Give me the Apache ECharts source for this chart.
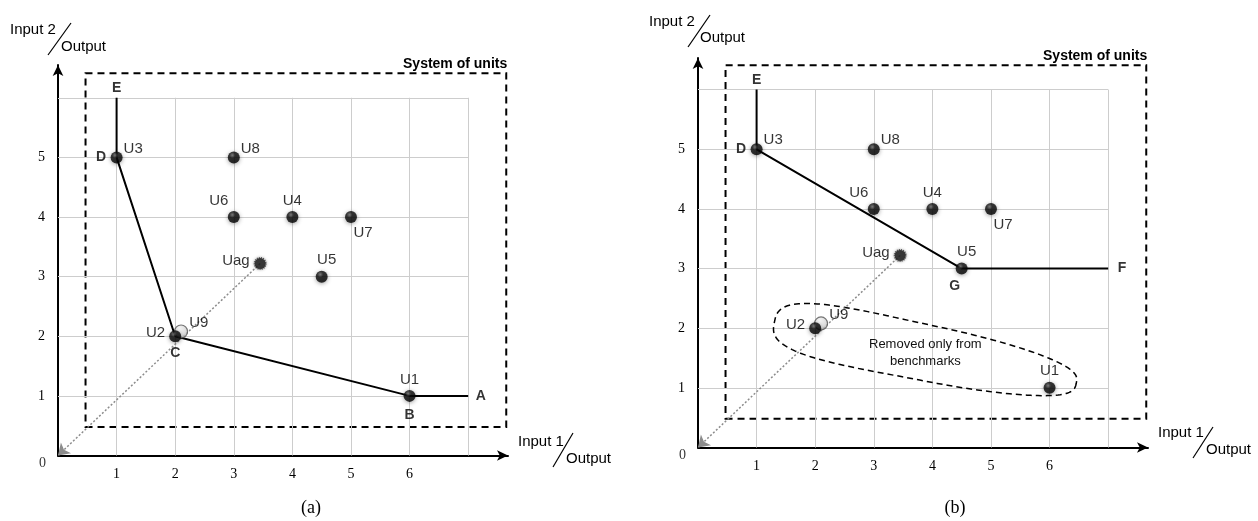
<!DOCTYPE html>
<html>
<head>
<meta charset="UTF-8">
<title>System of units</title>
<script src="https://cdn.jsdelivr.net/npm/echarts@6/dist/echarts.min.js"></script>
<style>
  html, body { margin: 0; padding: 0; background: #fff; }
  #chart { width: 1258px; height: 521px; }
</style>
</head>
<body>
<div id="chart"></div>
<script>
// grid ticks and the tick labels that are shown
const xTicks = [1, 2, 3, 4, 5, 6, 7];
const yTicks = [1, 2, 3, 4, 5, 6];
const xTickLabels = [1, 2, 3, 4, 5, 6];
const yTickLabels = [1, 2, 3, 4, 5];

// decision making units
const unitNames = ['U1', 'U2', 'U3', 'U4', 'U5', 'U6', 'U7', 'U8'];
const unitX = [6, 2, 1, 4, 4.5, 3, 5, 3];
const unitY = [1, 2, 5, 4, 3, 4, 4, 5];
const u9Point = [2.1, 2.08];
const uagPoint = [3.45, 3.22];

// efficient frontier, panel (a)
const frontierALetters = ['E', 'D', 'C', 'B', 'A'];
const frontierAX = [1, 1, 2, 6, 7];
const frontierAY = [6, 5, 2, 1, 1];

// efficient frontier, panel (b)
const frontierBLetters = ['E', 'D', 'G', 'F'];
const frontierBX = [1, 1, 4.5, 7];
const frontierBY = [6, 5, 3, 3];

// "system of units" box corners and the removed group
const systemBox = [[0.47, 0.48], [7.65, 6.41]];
const removedCenter = [3.88, 1.59];

const SANS = '"Liberation Sans", Arial, sans-serif';
const SERIF = '"Liberation Serif", "Times New Roman", serif';

// label placement (style only)
const labelStyles = {
  rt:   { position: 'right', distance: 1, offset: [0, -9] },
  lt:   { position: 'top', distance: 3, offset: [-15, 0] },
  top:  { position: 'top', distance: 3 },
  topr: { position: 'top', distance: 3, offset: [5, 0] },
  rb:   { position: 'bottom', distance: 2, offset: [12, 0] },
  left: { position: 'left', distance: 4, offset: [0, -3] }
};
const unitLabelPos = { U1: 'top', U2: 'left', U3: 'rt', U4: 'top', U5: 'topr', U6: 'lt', U7: 'rb', U8: 'rt', U9: 'rt', Uag: 'left' };
const letterLabelA = {
  E: { position: 'top', distance: 2 },
  D: { position: 'left', distance: 10 },
  C: { position: 'bottom', distance: 9 },
  B: { position: 'bottom', distance: 12 },
  A: { position: 'right', distance: 7 }
};
const letterLabelB = {
  E: { position: 'top', distance: 2 },
  D: { position: 'left', distance: 10 },
  G: { position: 'bottom', distance: 10, offset: [-7, 0] },
  F: { position: 'right', distance: 9 }
};

const sphere = {
  type: 'radial', x: 0.38, y: 0.32, r: 0.7,
  colorStops: [{ offset: 0, color: '#6a6a6a' }, { offset: 0.35, color: '#0c0c0c' }, { offset: 1, color: '#000' }]
};
const lightSphere = {
  type: 'radial', x: 0.38, y: 0.32, r: 0.75,
  colorStops: [{ offset: 0, color: '#f4f4f4' }, { offset: 0.6, color: '#d6d6d6' }, { offset: 1, color: '#a8a8a8' }]
};

function unitLabel(name) {
  return Object.assign({ show: true, formatter: name, fontFamily: SANS, fontSize: 15, color: '#000' },
    labelStyles[unitLabelPos[name]]);
}

function panelSeries(idx, letters, fx, fy, letterPos) {
  const ax = { xAxisIndex: idx, yAxisIndex: idx };
  const gridSegs = [];
  xTicks.forEach(function (x) { gridSegs.push({ coords: [[x, 0], [x, yTicks[yTicks.length - 1]]] }); });
  yTicks.forEach(function (y) { gridSegs.push({ coords: [[0, y], [xTicks[xTicks.length - 1], y]] }); });

  return [
    Object.assign({
      type: 'lines', coordinateSystem: 'cartesian2d', silent: true, z: 1,
      data: gridSegs, symbol: 'none',
      lineStyle: { color: '#cdcdcd', width: 1, type: 'solid', opacity: 1 }
    }, ax),
    Object.assign({
      type: 'lines', coordinateSystem: 'cartesian2d', silent: true, z: 3,
      data: [{ coords: [uagPoint, [0, 0]] }],
      symbol: ['none', 'arrow'], symbolSize: 11,
      lineStyle: { color: '#8c8c8c', width: 1.5, type: [2, 2], opacity: 1 }
    }, ax),
    Object.assign({
      type: 'line', silent: true, z: 4, symbol: 'none',
      data: fx.map(function (x, i) { return [x, fy[i]]; }),
      lineStyle: { color: '#000', width: 2 },
      markArea: {
        silent: true,
        itemStyle: { color: 'rgba(0,0,0,0)', borderColor: '#000', borderWidth: 2, borderType: [7, 5] },
        label: {
          show: true, position: ['100%', 0], align: 'right', verticalAlign: 'bottom',
          offset: [0, -1], fontFamily: SANS, fontWeight: 'bold', fontSize: 14, color: '#000'
        },
        data: [[{ name: 'System of units', coord: systemBox[0] }, { coord: systemBox[1] }]]
      }
    }, ax),
    Object.assign({
      type: 'scatter', silent: true, z: 5, symbolSize: 1,
      itemStyle: { color: 'rgba(0,0,0,0)' },
      data: letters.map(function (l, i) {
        return {
          value: [fx[i], fy[i]],
          label: Object.assign({ show: true, formatter: l, fontFamily: SANS, fontWeight: 'bold', fontSize: 14, color: '#000' }, letterPos[l])
        };
      })
    }, ax),
    Object.assign({
      type: 'scatter', silent: true, z: 6, symbolSize: 13,
      itemStyle: { color: lightSphere, borderColor: '#555', borderWidth: 1.2 },
      data: [{ value: u9Point, label: unitLabel('U9') }]
    }, ax),
    Object.assign({
      type: 'scatter', silent: true, z: 7, symbolSize: 11,
      itemStyle: { color: '#1a1a1a', borderColor: '#333', borderWidth: 2, borderType: [1, 1], shadowBlur: 3, shadowColor: 'rgba(0,0,0,0.4)' },
      data: [{ value: uagPoint, label: unitLabel('Uag') }]
    }, ax),
    Object.assign({
      type: 'scatter', silent: true, z: 8, symbolSize: 12,
      itemStyle: { color: sphere, shadowBlur: 4, shadowColor: 'rgba(0,0,0,0.45)', shadowOffsetY: 1 },
      data: unitNames.map(function (n, i) { return { value: [unitX[i], unitY[i]], label: unitLabel(n) }; })
    }, ax),
    Object.assign({
      type: 'scatter', silent: true, z: 5, symbolSize: 1,
      itemStyle: { color: 'rgba(0,0,0,0)' },
      data: [{
        value: [0, 0],
        label: { show: true, formatter: '0', position: [-15, 8], align: 'center', verticalAlign: 'middle', fontFamily: SERIF, fontSize: 14, color: '#000' }
      }]
    }, ax)
  ];
}

function xAxisFor(idx, max) {
  return {
    type: 'value', gridIndex: idx, min: 0, max: max, interval: 1,
    splitLine: { show: false }, axisTick: { show: false },
    axisLine: { lineStyle: { color: '#000', width: 2 }, symbol: ['none', 'arrow'], symbolSize: [8, 11] },
    axisLabel: {
      margin: 12, fontFamily: SERIF, fontSize: 14, color: '#000', showMaxLabel: false,
      formatter: function (v) { return xTickLabels.indexOf(v) >= 0 ? String(v) : ''; }
    }
  };
}
function yAxisFor(idx, max) {
  return {
    type: 'value', gridIndex: idx, min: 0, max: max, interval: 1,
    splitLine: { show: false }, axisTick: { show: false },
    axisLine: { lineStyle: { color: '#000', width: 2 }, symbol: ['none', 'arrow'], symbolSize: [8, 11] },
    axisLabel: {
      margin: 13, fontFamily: SERIF, fontSize: 14, color: '#000', showMaxLabel: false,
      formatter: function (v) { return yTickLabels.indexOf(v) >= 0 ? String(v) : ''; }
    }
  };
}

function titleGroup(tx, ty, sx1, sy1, sx2, sy2, ox, oy, top) {
  return [
    { type: 'text', x: tx, y: ty, style: { text: top, font: '15px ' + SANS, fill: '#000', textVerticalAlign: 'middle' } },
    { type: 'line', shape: { x1: sx1, y1: sy1, x2: sx2, y2: sy2 }, style: { stroke: '#000', lineWidth: 1.2 } },
    { type: 'text', x: ox, y: oy, style: { text: 'Output', font: '15px ' + SANS, fill: '#000', textVerticalAlign: 'middle' } }
  ];
}

const chart = echarts.init(document.getElementById('chart'));

// dashed rounded outline round the units removed from the benchmarks
const ellipseSeries = {
  type: 'custom', xAxisIndex: 1, yAxisIndex: 1, silent: true, clip: false, z: 2,
  data: [removedCenter],
  renderItem: function (params, api) {
    const c = api.coord([api.value(0), api.value(1)]);
    const rx = 154, ry = 28, th = 0.2, n = 3;
    const pts = [];
    for (let i = 0; i <= 160; i++) {
      const t = i / 160 * Math.PI * 2;
      const ct = Math.cos(t), st = Math.sin(t);
      const ex = rx * Math.sign(ct) * Math.pow(Math.abs(ct), 2 / n);
      const ey = ry * (1 - 0.2 * ct) * Math.sign(st) * Math.pow(Math.abs(st), 2 / n);
      pts.push([
        c[0] + ex * Math.cos(th) - ey * Math.sin(th),
        c[1] + ex * Math.sin(th) + ey * Math.cos(th)
      ]);
    }
    return {
      type: 'group',
      children: [
        { type: 'polygon', shape: { points: pts }, style: { fill: 'none', stroke: '#000', lineWidth: 1.5, lineDash: [6, 4] } },
        { type: 'text', x: c[0], y: c[1], style: { text: 'Removed only from\nbenchmarks', font: '13px ' + SANS, fill: '#111', textAlign: 'center', textVerticalAlign: 'middle', lineHeight: 17 } }
      ]
    };
  }
};

chart.setOption({
  animation: false,
  backgroundColor: '#fff',
  grid: [
    { left: 58, top: 65, width: 450, height: 390.5 },
    { left: 698, top: 58, width: 450, height: 389.5 }
  ],
  xAxis: [xAxisFor(0, 7.68), xAxisFor(1, 7.68)],
  yAxis: [yAxisFor(0, 6.55), yAxisFor(1, 6.53)],
  graphic: [].concat(
    titleGroup(10, 30, 48, 55, 71, 23, 61, 47, 'Input 2'),
    titleGroup(649, 22, 688, 47, 710, 15, 700, 38, 'Input 2'),
    titleGroup(518, 442, 553, 467, 573, 433, 566, 459, 'Input 1'),
    titleGroup(1158, 433, 1193, 458, 1213, 427, 1206, 450, 'Input 1'),
    [
      { type: 'text', x: 311, y: 508, style: { text: '(a)', font: '18px ' + SERIF, fill: '#000', textAlign: 'center', textVerticalAlign: 'middle' } },
      { type: 'text', x: 955, y: 508, style: { text: '(b)', font: '18px ' + SERIF, fill: '#000', textAlign: 'center', textVerticalAlign: 'middle' } }
    ]
  ),
  series: [].concat(
    panelSeries(0, frontierALetters, frontierAX, frontierAY, letterLabelA),
    panelSeries(1, frontierBLetters, frontierBX, frontierBY, letterLabelB),
    [ellipseSeries]
  )
});
</script>
</body>
</html>
